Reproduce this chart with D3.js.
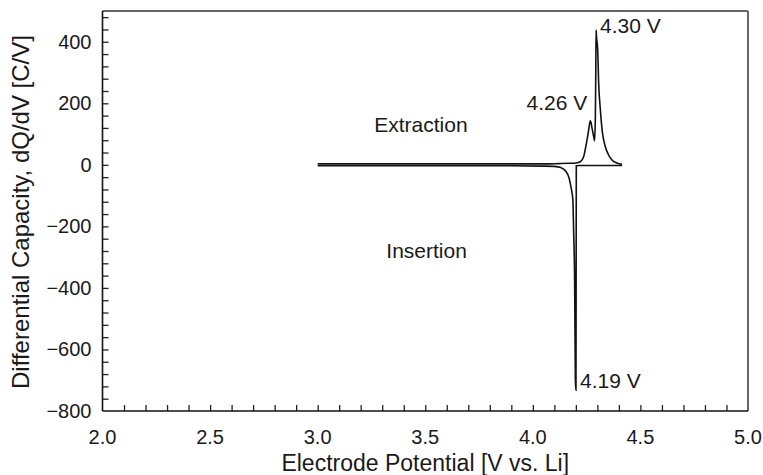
<!DOCTYPE html>
<html>
<head>
<meta charset="utf-8">
<script src="https://cdn.jsdelivr.net/npm/d3@7"></script>
<style>
  html, body { margin: 0; padding: 0; background: #fff; }
  #chart-container { width: 763px; height: 475px; }
  svg text { font-family: "Liberation Sans", Arial, Helvetica, sans-serif; fill: #1a1a1a; }
</style>
</head>
<body>
<div id="chart-container"></div>
<script>
// potential [V vs. Li] and dQ/dV [C/V]
const extractionV = [3.00, 3.30, 3.60, 3.90, 4.05, 4.12, 4.17, 4.20, 4.221, 4.236, 4.249, 4.257, 4.263, 4.267, 4.271, 4.275, 4.283, 4.287, 4.2905, 4.2925, 4.294, 4.2955, 4.3014, 4.306, 4.314, 4.322, 4.337, 4.352, 4.368, 4.390, 4.415];
const extractionQ = [3, 3, 3, 3, 3, 4, 5, 6, 10, 26, 70, 102, 130, 143, 136, 120, 91, 78, 150, 300, 438, 420, 373, 265, 178, 113, 59, 32, 16, 6, 2];

const insertionV = [3.00, 3.30, 3.60, 3.90, 4.05, 4.10, 4.130, 4.152, 4.168, 4.178, 4.186, 4.1898, 4.1944, 4.1977, 4.2005, 4.2020, 4.215, 4.25, 4.30, 4.35, 4.415];
const insertionQ = [-3, -3, -3, -3, -4, -5, -9, -20, -42, -75, -114, -221, -385, -700, -732, -3, -2, -2, -2, -2, -2];

const xTickLabels = ['2.0', '2.5', '3.0', '3.5', '4.0', '4.5', '5.0'];
const yTickLabels = ['400', '200', '0', '−200', '−400', '−600', '−800'];

const annotations = [
  { text: '4.30 V', v: 4.294, q: 438 },
  { text: '4.26 V', v: 4.267, q: 143 },
  { text: '4.19 V', v: 4.2005, q: -732 }
];

const margin = { top: 11, right: 15, bottom: 64, left: 102.5 };
const W = 763, H = 475;
const width = W - margin.left - margin.right;
const height = H - margin.top - margin.bottom;

const svg = d3.select('#chart-container')
  .append('svg')
  .attr('width', W)
  .attr('height', H)
  .append('g')
  .attr('transform', `translate(${margin.left},${margin.top})`);

const x = d3.scaleLinear().domain([2.0, 5.0]).range([0, width]);
const y = d3.scaleLinear().domain([-800, 500]).range([height, 0]);

// minor ticks, pointing inward
const xAxis = d3.axisTop(x).tickValues(d3.range(2.1, 5.0, 0.1)).tickSize(6).tickFormat('');
svg.append('g')
  .attr('transform', `translate(0,${height})`)
  .call(xAxis)
  .call(g => g.select('.domain').remove())
  .call(g => g.selectAll('line').attr('stroke', '#222').attr('stroke-width', 1.3));

const yAxis = d3.axisRight(y).tickValues(d3.range(-760, 500, 40)).tickSize(6).tickFormat('');
svg.append('g')
  .call(yAxis)
  .call(g => g.select('.domain').remove())
  .call(g => g.selectAll('line').attr('stroke', '#222').attr('stroke-width', 1.3));

// frame
svg.append('line').attr('x1', 0).attr('x2', width).attr('y1', 0).attr('y2', 0)
  .attr('stroke', '#666').attr('stroke-width', 2);
svg.append('line').attr('x1', width).attr('x2', width).attr('y1', 0).attr('y2', height)
  .attr('stroke', '#666').attr('stroke-width', 2);
svg.append('line').attr('x1', 0).attr('x2', 0).attr('y1', 0).attr('y2', height)
  .attr('stroke', '#111').attr('stroke-width', 1.6);
svg.append('line').attr('x1', 0).attr('x2', width).attr('y1', height).attr('y2', height)
  .attr('stroke', '#111').attr('stroke-width', 1.6);

// tick labels
svg.selectAll('.xlab')
  .data(xTickLabels)
  .join('text')
  .attr('class', 'xlab')
  .attr('x', d => x(+d))
  .attr('y', height + 33)
  .attr('text-anchor', 'middle')
  .attr('font-size', 20)
  .text(d => d);

svg.selectAll('.ylab')
  .data(yTickLabels)
  .join('text')
  .attr('class', 'ylab')
  .attr('x', -11)
  .attr('y', d => y(+d.replace('−', '-')) + 7)
  .attr('text-anchor', 'end')
  .attr('font-size', 20)
  .text(d => d);

// axis titles
svg.append('text')
  .attr('x', width / 2)
  .attr('y', height + 60)
  .attr('text-anchor', 'middle')
  .attr('font-size', 23)
  .text('Electrode Potential [V vs. Li]');

svg.append('text')
  .attr('transform', `translate(${-74},${height / 2 + 1}) rotate(-90)`)
  .attr('text-anchor', 'middle')
  .attr('font-size', 24)
  .text('Differential Capacity, dQ/dV [C/V]');

// curves
const line = d3.line()
  .x(d => x(d[0]))
  .y(d => y(d[1]))
  .curve(d3.curveMonotoneX);

svg.append('path')
  .datum(d3.zip(insertionV, insertionQ))
  .attr('fill', 'none')
  .attr('stroke', '#111')
  .attr('stroke-width', 1.6)
  .attr('d', line);

svg.append('path')
  .datum(d3.zip(extractionV, extractionQ))
  .attr('fill', 'none')
  .attr('stroke', '#111')
  .attr('stroke-width', 1.6)
  .attr('d', line);

// peak labels
svg.append('text').attr('x', x(annotations[0].v) + 4).attr('y', y(annotations[0].q) + 3)
  .attr('font-size', 21).text(annotations[0].text);
svg.append('text').attr('x', x(annotations[1].v) - 3).attr('y', y(annotations[1].q) - 11)
  .attr('text-anchor', 'end').attr('font-size', 21).text(annotations[1].text);
svg.append('text').attr('x', x(annotations[2].v) + 4).attr('y', y(annotations[2].q) - 2)
  .attr('font-size', 21).text(annotations[2].text);

svg.append('text').attr('x', x(3.263)).attr('y', y(107))
  .attr('font-size', 21).text('Extraction');
svg.append('text').attr('x', x(3.319)).attr('y', y(-303))
  .attr('font-size', 21).text('Insertion');
</script>
</body>
</html>
